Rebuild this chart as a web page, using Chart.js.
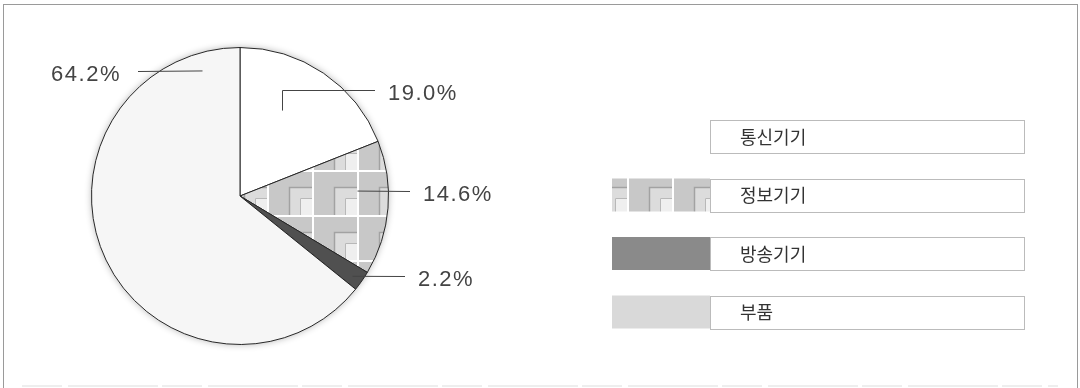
<!DOCTYPE html>
<html>
<head>
<meta charset="utf-8">
<script src="https://cdn.jsdelivr.net/npm/chart.js@4"></script>
<style>
  html, body { margin: 0; padding: 0; background: #fff; }
  #wrap { width: 1080px; height: 388px; position: relative; }
</style>
</head>
<body>
<div id="wrap"><canvas id="pieChart" width="1080" height="388"></canvas></div>
<script>
const categories = ["통신기기", "정보기기", "방송기기", "부품"];
const shares = [19.0, 14.6, 2.2, 64.2];

// callout placement: where the leader starts inside the slice and where it ends
const callouts = [
    { frac: 0.38, rad: 0.64, rise: 21, endX: 135 },
    { frac: 0.365, rad: 0.79, rise: 0, endX: 170 },
    { frac: 0.58, rad: 0.93, rise: 0, endX: 165 },
    { frac: 0.927, rad: 0.88, rise: 0, endX: -102 }
];

function makeTile() {
    const c = document.createElement("canvas");
    c.width = 45; c.height = 45;
    const g = c.getContext("2d");
    g.fillStyle = "#c8c8c8"; g.fillRect(0, 0, 45, 45);
    g.fillStyle = "#dcdcdc"; g.fillRect(20, 15, 25, 30);
    g.strokeStyle = "#a2a2a2"; g.lineWidth = 1.5;
    g.beginPath(); g.moveTo(20.5, 45); g.lineTo(20.5, 15.5); g.lineTo(45, 15.5); g.stroke();
    g.fillStyle = "#efefef"; g.fillRect(31, 26, 14, 19);
    g.strokeStyle = "#b8b8b8"; g.lineWidth = 1;
    g.beginPath(); g.moveTo(31.5, 45); g.lineTo(31.5, 26.5); g.lineTo(45, 26.5); g.stroke();
    g.fillStyle = "#ffffff";
    g.fillRect(43, 0, 2, 45);
    g.fillRect(0, 43, 45, 2);
    return c;
}

const ctx = document.getElementById("pieChart");
const tile = makeTile();
const pattern = ctx.getContext("2d").createPattern(tile, "repeat");
pattern.setTransform(new DOMMatrix().translate(-1, -8));

const sliceColors = ["#ffffff", pattern, "#505050", "#f6f6f6"];
const legendColors = ["#ffffff", pattern, "#8a8a8a", "#d9d9d9"];

const decor = {
    id: "decor",
    beforeDatasetsDraw(chart) {
        const c = chart.ctx;
        const arc = chart.getDatasetMeta(0).data[0];
        c.save();
        c.shadowColor = "rgba(0,0,0,0.3)";
        c.shadowBlur = 7;
        c.fillStyle = "#fff";
        c.beginPath();
        c.arc(arc.x, arc.y, arc.outerRadius, 0, Math.PI * 2);
        c.fill();
        c.restore();
    },
    afterDraw(chart) {
        const c = chart.ctx;
        c.save();
        // outer frame
        c.strokeStyle = "#9a9a9a";
        c.lineWidth = 1;
        c.strokeRect(3.5, 4.5, 1074, 420);
        c.strokeStyle = "#eeeeee";
        c.lineWidth = 2;
        c.setLineDash([40, 6, 90, 4]);
        c.beginPath(); c.moveTo(22, 386); c.lineTo(1058, 386); c.stroke();
        c.setLineDash([]);

        // callouts
        const meta = chart.getDatasetMeta(0);
        c.font = "22px 'Liberation Sans', Arial, sans-serif";
        c.letterSpacing = "1.5px";
        c.fillStyle = "#444";
        c.textBaseline = "middle";
        meta.data.forEach((el, i) => {
            const p = el.getProps(["x", "y", "startAngle", "endAngle", "outerRadius"], true);
            const cfg = callouts[i];
            const a = p.startAngle + cfg.frac * (p.endAngle - p.startAngle);
            const ax = p.x + Math.cos(a) * cfg.rad * p.outerRadius;
            const ay = p.y + Math.sin(a) * cfg.rad * p.outerRadius;
            const ly = ay - cfg.rise;
            const ex = p.x + cfg.endX;
            c.strokeStyle = "#444";
            c.lineWidth = 1;
            c.beginPath();
            c.moveTo(Math.round(ax) + 0.5, ay);
            if (cfg.rise) c.lineTo(Math.round(ax) + 0.5, Math.round(ly) + 0.5);
            c.lineTo(ex, Math.round(ly) + 0.5);
            c.stroke();
            const txt = chart.data.datasets[0].data[i].toFixed(1) + "%";
            if (cfg.endX < 0) {
                c.textAlign = "right";
                c.fillText(txt, ex - 17, ly + 4);
            } else {
                c.textAlign = "left";
                c.fillText(txt, ex + 13, ly + 4);
            }
        });

        // legend
        c.letterSpacing = "0px";
        c.font = "18px 'Noto Sans CJK KR', sans-serif";
        c.textAlign = "left";
        chart.data.labels.forEach((lab, i) => {
            const top = 120 + i * 58.5;
            c.fillStyle = legendColors[i];
            c.fillRect(612, top, 98, 33);
            c.strokeStyle = "#bbbbbb";
            c.lineWidth = 1;
            c.strokeRect(710.5, Math.round(top) + 0.5, 314, 33);
            c.fillStyle = "#333";
            c.fillText(lab, 740, top + 17);
        });
        c.restore();
    }
};

new Chart(ctx, {
    type: "pie",
    data: {
        labels: categories,
        datasets: [{
            data: shares,
            backgroundColor: sliceColors,
            borderColor: "#262626",
            borderWidth: 1
        }]
    },
    options: {
        responsive: false,
        animation: false,
        layout: { padding: { left: 91, top: 47, right: 691, bottom: 43 } },
        plugins: {
            legend: { display: false },
            tooltip: { enabled: false }
        }
    },
    plugins: [decor]
});
</script>
</body>
</html>
